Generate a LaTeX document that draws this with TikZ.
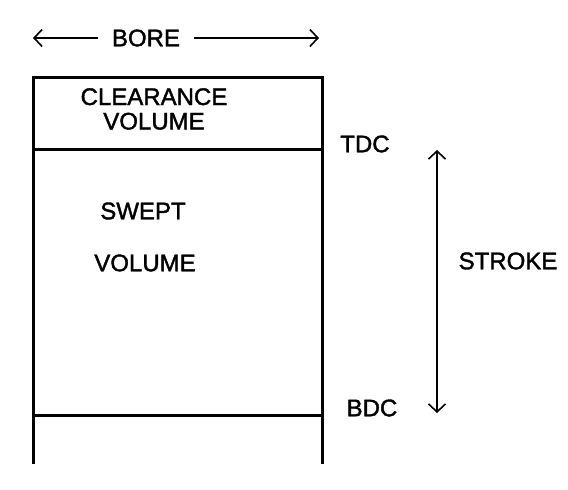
\documentclass[tikz,border=0pt]{standalone}
\usepackage{fontspec}
\setmainfont{Liberation Sans}
\newfontfamily\lblfont[FakeBold=1.6]{Liberation Sans}
\usetikzlibrary{arrows.meta,positioning}

\begin{document}
\begin{tikzpicture}[x=1pt, y=-1pt, wall/.style={line width=3pt}, lbl/.style={font=\lblfont\fontsize{24}{24.5}\selectfont, inner sep=0pt, align=center}, arr/.style={-{Straight Barb[length=8pt, width=17pt]}, line width=1.6pt}, dbl/.style={{Straight Barb[length=8pt, width=17pt]}-{Straight Barb[length=8pt, width=17pt]}, line width=1.6pt}]
    \useasboundingbox[fill=white] (0,0) rectangle (568,490);
    % cylinder walls
    \coordinate (bl) at (33,464);
    \coordinate (tl) at (33,77);
    \coordinate (tr) at (322,77);
    \coordinate (br) at (322,464);
    \coordinate (tdcL) at (33,149);
    \coordinate (tdcR) at (322,149);
    \coordinate (bdcL) at (33,415);
    \coordinate (bdcR) at (322,415);
    \draw[wall] (bl) -- (tl) -- (tr) -- (br);
    \draw[wall] (tdcL) -- (tdcR);
    \draw[wall] (bdcL) -- (bdcR);
    % labels
    \node[lbl, inner xsep=14pt] (bore) at (146,38) {BORE};
    \node[lbl] (clear) at (154,109) {CLEARANCE\\VOLUME};
    \node[lbl] (swept) at (143,211) {SWEPT};
    \node[lbl] (vol) at (145,263) {VOLUME};
    \node[lbl] (tdc) at (365,144) {TDC};
    \node[lbl] (bdc) at (372,408) {BDC};
    \node[lbl] (stroke) at (508,261) {STROKE};
    % bore and stroke arrows
    \coordinate (boreL) at (33,38);
    \coordinate (boreR) at (319,38);
    \coordinate (strokeT) at (437,150);
    \coordinate (strokeB) at (437,413);
    \draw[arr] (bore) -- (boreL);
    \draw[arr] (bore) -- (boreR);
    \draw[dbl] (strokeT) -- (strokeB);
  \end{tikzpicture}
\end{document}
